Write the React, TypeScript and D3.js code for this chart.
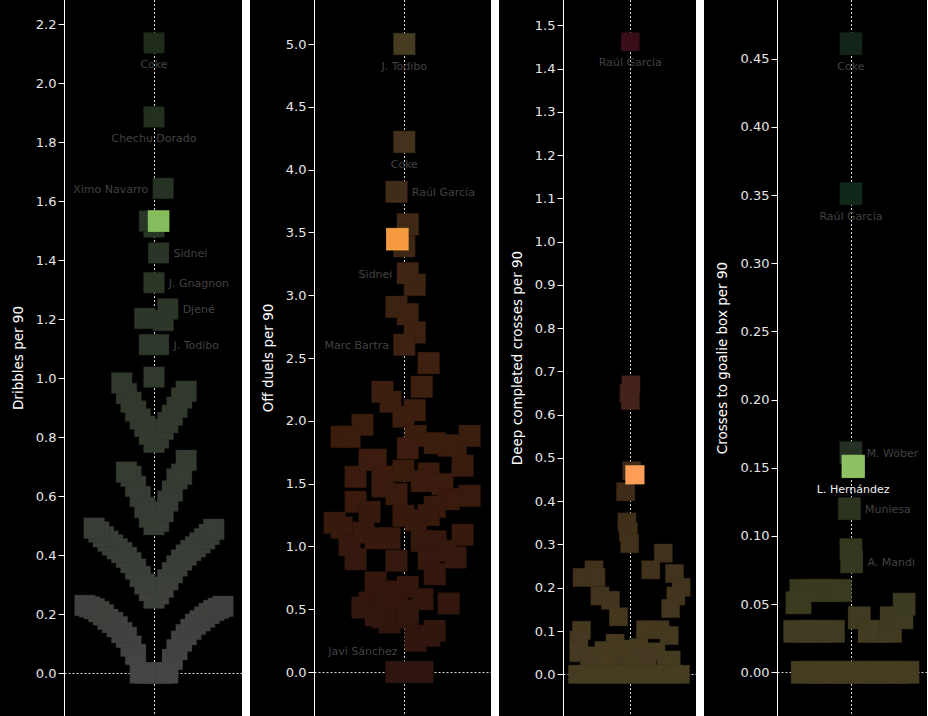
import React from "react";
import * as d3 from "d3";

const WIDTH = 928;
const HEIGHT = 716;
const HIGHLIGHT = "L. Hernández";

// ---------- Dribbles per 90 ----------
const dribblesNamed: [string, number][] = [
  ["L. Hernández", 1.532],
  ["Coke", 2.136],
  ["Chechu Dorado", 1.885],
  ["Ximo Navarro", 1.643],
  ["Sidnei", 1.424],
  ["J. Gnagnon", 1.323],
  ["Djené", 1.234],
  ["J. Todibo", 1.113],
];
const dribblesValues: number[] = [
  0, 0, 0, 0, 0, 0, 0, 0.046, 0.063, 0.079, 0.091, 0.108, 0.121, 0.13, 0.137, 0.148, 0.157, 0.165,
  0.171, 0.177, 0.182, 0.19, 0.197, 0.202, 0.208, 0.212, 0.218, 0.219, 0.224, 0.226, 0.229,
  0.254, 0.268, 0.279, 0.291, 0.302, 0.316, 0.327, 0.34, 0.352, 0.363, 0.374, 0.383, 0.392, 0.4,
  0.408, 0.415, 0.421, 0.428, 0.434, 0.441, 0.447, 0.455, 0.462, 0.47, 0.478, 0.487, 0.491,
  0.503, 0.514, 0.528, 0.547, 0.561, 0.583, 0.598, 0.617, 0.633, 0.658, 0.667, 0.674, 0.681, 0.721,
  0.782, 0.797, 0.809, 0.826, 0.836, 0.849, 0.861, 0.874, 0.888, 0.901, 0.918, 0.932, 0.947, 0.955, 0.983,
  1.003, 1.113, 1.195, 1.202,
  1.512, 1.532,
];
const dribblesTicks = [0, 0.2, 0.4, 0.6, 0.8, 1.0, 1.2, 1.4, 1.6, 1.8, 2.0, 2.2];

// ---------- Off duels per 90 ----------
const duelsNamed: [string, number, number][] = [
  ["L. Hernández", 3.446, -0.08],
  ["J. Todibo", 5.0, 0],
  ["Coke", 4.22, 0],
  ["Raúl García", 3.823, -0.09],
  ["Sidnei", 3.175, 0.04],
  ["Marc Bartra", 2.605, 0],
  ["Javi Sánchez", 0, 0.06],
];
const duelsValues: number[] = [
  3.565, 3.39, 3.083, 2.907, 2.849, 2.703, 2.46, 2.271, 2.231, 2.151,
  2.085, 2.032, 1.968, 1.873, 1.873, 1.88, 1.782, 1.822, 1.803, 1.803,
  1.88, 1.642, 1.69, 1.69, 1.554, 1.556, 1.477, 1.602, 1.58, 1.52,
  1.495, 1.416, 1.376, 1.403, 1.315, 1.355, 1.275, 1.243, 1.25, 1.208,
  1.188, 1.15, 1.012, 1.11, 1.065, 1.065, 0.898, 0.886, 1.044, 1.04,
  1.092, 0.965, 0.912, 0.9, 0.779, 0.713, 0.678, 0.64, 0.64, 0.553,
  0.514, 0.58, 0.545, 0.48, 0.434, 0.394, 0.434, 0.288, 0.248, 0.328,
  0.288, 0, 0, 0.52, 0.56, 0.492, 0.452,
];
const duelsJitter: number[] = [
  0.04, 0, 0.12, -0.09, 0.04, 0.12, 0.28, 0.2, -0.25, -0.16,
  0.12, -0.01, -0.48, -0.72, -0.63, 0.13, 0.04, 0.35, 0.51, 0.59,
  0.75, 0.67, -0.4, -0.33, -0.56, -0.25, -0.25, -0.01, 0.28, 0.2,
  0.44, -0.09, 0.51, 0.75, 0.35, -0.56, -0.4, -0.01, 0.28, 0.13,
  -0.8, -0.72, -0.63, -0.47, -0.33, -0.17, -0.56, -0.09, 0.2, 0.36,
  0.67, 0.47, 0.59, 0.28, 0.35, -0.33, 0.04, -0.08, -0.23, -0.4,
  -0.48, 0.21, 0.51, -0.25, -0.25, -0.17, 0.04, 0.13, 0.13, 0.35,
  0.29, -0.09, 0.21, -0.22, -0.09, 0.04, -0.33,
];
const duelsTicks = [0, 0.5, 1, 1.5, 2, 2.5, 3, 3.5, 4, 4.5, 5];

// ---------- Deep completed crosses per 90 ----------
const deepNamed: [string, number, number][] = [
  ["L. Hernández", 0.461, 0.07],
  ["Raúl García", 1.462, 0],
];
const deepValues: number[] = [
  0.669, 0.649, 0.633, 0.4706, 0.422, 0.352, 0.329, 0.302, 0.28, 0.2415,
  0.233, 0.201, 0.181, 0.152, 0.2415, 0.224, 0.224, 0.181, 0.171, 0.133,
  0.1017, 0.079, 0.05, 0.072, 0.103, 0.103, 0.0897, 0.062, 0.03, 0.0427,
  0.0427, 0.052, 0.033, 0.04, 0.045, 0.035, 0.04, 0.055, 0.058, 0.025,
  0, 0, 0, 0, 0, 0, 0, 0, 0, 0, 0, 0, 0,
];
const deepJitter: number[] = [
  0.01, -0.02, 0, 0.02, -0.07, -0.05, -0.03, -0.01, 0.5, 0.31,
  0.67, 0.77, 0.69, 0.61, -0.55, -0.73, -0.52, -0.46, -0.3, -0.18,
  -0.74, -0.78, -0.78, -0.23, 0.23, 0.45, 0.59, 0.13, 0.54, -0.5,
  -0.22, 0.39, 0.62, -0.62, -0.05, 0.05, 0.25, -0.4, -0.12, -0.35,
  -0.8, -0.67, -0.54, -0.41, -0.28, -0.15, -0.02, 0.11, 0.24, 0.37, 0.5, 0.63, 0.76,
];
const deepTicks = [0, 0.1, 0.2, 0.3, 0.4, 0.5, 0.6, 0.7, 0.8, 0.9, 1.0, 1.1, 1.2, 1.3, 1.4, 1.5];

// ---------- Crosses to goalie box per 90 ----------
const goalieNamed: [string, number, number][] = [
  ["Coke", 0.461, -0.01],
  ["Raúl García", 0.351, -0.01],
  ["M. Wöber", 0.161, -0.01],
  ["Muniesa", 0.12, -0.03],
  ["A. Mandi", 0.081, 0.0],
  ["L. Hernández", 0.151, 0.02],
];
const goalieValues: number[] = [
  0.09, 0.06, 0.06, 0.06, 0.06, 0.06, 0.051, 0.051, 0.03, 0.03,
  0.03, 0.03, 0.03, 0.04, 0.03, 0.03, 0.03, 0.04, 0.04, 0.05,
  0, 0, 0, 0, 0, 0, 0, 0, 0, 0, 0,
];
const goalieJitter: number[] = [
  -0.01, -0.67, -0.54, -0.41, -0.28, -0.15, -0.72, -0.68, -0.75, -0.62,
  -0.49, -0.37, -0.24, 0.1, 0.23, 0.37, 0.51, 0.52, 0.66, 0.69,
  -0.65, -0.51, -0.37, -0.23, -0.09, 0.05, 0.19, 0.33, 0.46, 0.6, 0.74,
];
const goalieTicks = [0, 0.05, 0.1, 0.15, 0.2, 0.25, 0.3, 0.35, 0.4, 0.45];

// ---------- label placement (style) ----------
const labelPlacement: Record<string, string> = {
  "dribbles|Coke": "below",
  "dribbles|Chechu Dorado": "below",
  "dribbles|Ximo Navarro": "left",
  "dribbles|Sidnei": "right",
  "dribbles|J. Gnagnon": "right",
  "dribbles|Djené": "right",
  "dribbles|J. Todibo": "right",
  "duels|J. Todibo": "below",
  "duels|Coke": "below",
  "duels|Raúl García": "right",
  "duels|Sidnei": "left",
  "duels|Marc Bartra": "left",
  "duels|Javi Sánchez": "aboveLeft",
  "deep|Raúl García": "below",
  "goalie|Coke": "below",
  "goalie|Raúl García": "below",
  "goalie|M. Wöber": "right",
  "goalie|L. Hernández": "below",
  "goalie|Muniesa": "right",
  "goalie|A. Mandi": "right",
};

type Pt = { name: string | null; value: number; jitter: number };

// Tableau-style binned swarm: within each bin, sorted ascending, alternate right/left
function binnedSwarm(items: { name: string | null; value: number }[], binWidth: number): Pt[] {
  const withIdx = items.map((p, i) => ({ ...p, i }));
  const groups = d3.group(withIdx, (p) => Math.floor(p.value / binWidth + 1e-9));
  const jit = new Array(items.length).fill(0);
  groups.forEach((arr) => {
    const sorted = arr.slice().sort((a, b) => a.value - b.value || a.i - b.i);
    sorted.forEach((p, r) => {
      const k = Math.ceil(r / 2);
      jit[p.i] = r % 2 === 1 ? k : -k;
    });
  });
  return items.map((p, i) => ({ ...p, jitter: jit[i] }));
}

const dribblesPoints: Pt[] = binnedSwarm(
  [
    ...dribblesNamed.map(([name, value]) => ({ name, value })),
    ...dribblesValues.map((value) => ({ name: null, value })),
  ],
  0.25
);
const mkPoints = (named: [string, number, number][], values: number[], jitter: number[]): Pt[] => [
  ...named.map(([name, value, j]) => ({ name, value, jitter: j })),
  ...values.map((value, i) => ({ name: null, value, jitter: jitter[i] })),
];

const panels = [
  {
    key: "dribbles",
    title: "Dribbles per 90",
    left: 0, right: 242, axisX: 64.5, cx: 154, lineX: 154.5,
    yDomain: [0, 2.2], yRange: [673, 24],
    jitterHalf: 4.6, size: 20.7, ticks: dribblesTicks, fmt: ".1f",
    colorDomain: [0, 0.5, 1.0, 1.5, 2.14],
    colorRange: ["#454545", "#383d35", "#30392c", "#283425", "#1f2c1b"],
    highlight: "#85bd5c",
    points: dribblesPoints,
  },
  {
    key: "duels",
    title: "Off duels per 90",
    left: 250, right: 491, axisX: 314.5, cx: 404.3, lineX: 404.5,
    yDomain: [0, 5], yRange: [672, 44],
    jitterHalf: 87, size: 21.7, ticks: duelsTicks, fmt: ".1f",
    colorDomain: [0, 0.6, 1.5, 2.5, 3.5, 4.2, 5.0],
    colorRange: ["#2e1510", "#33170e", "#3a1b0d", "#3d2010", "#3e2715", "#44321d", "#463c22"],
    highlight: "#f59a3f",
    points: mkPoints(duelsNamed, duelsValues, duelsJitter),
  },
  {
    key: "deep",
    title: "Deep completed crosses per 90",
    left: 499, right: 696, axisX: 563.5, cx: 630.3, lineX: 630.5,
    yDomain: [0, 1.5], yRange: [674.3, 25.3],
    jitterHalf: 66, size: 18.3, ticks: deepTicks, fmt: ".1f",
    colorDomain: [0, 0.1, 0.3, 0.45, 0.65, 1.46],
    colorRange: ["#463c22", "#44381f", "#41301a", "#3e2a17", "#45221a", "#3a0e18"],
    highlight: "#ff9c58",
    points: mkPoints(deepNamed, deepValues, deepJitter),
  },
  {
    key: "goalie",
    title: "Crosses to goalie box per 90",
    left: 704, right: 927, axisX: 777.5, cx: 851.7, lineX: 851.5,
    yDomain: [0, 0.45], yRange: [672.3, 58.7],
    jitterHalf: 76, size: 22.4, ticks: goalieTicks, fmt: ".2f",
    colorDomain: [0, 0.03, 0.06, 0.09, 0.12, 0.16, 0.35, 0.46],
    colorRange: ["#463c22", "#413b22", "#3a3a21", "#33371f", "#2c3420", "#243021", "#10281a", "#13241a"],
    highlight: "#8cc063",
    points: mkPoints(goalieNamed, goalieValues, goalieJitter),
  },
];

const FONT = "'DejaVu Sans', sans-serif";

function Panel({ cfg }: { cfg: (typeof panels)[number] }) {
  const y = d3.scaleLinear().domain(cfg.yDomain).range(cfg.yRange);
  const x = d3
    .scaleLinear()
    .domain([-1, 1])
    .range([cfg.cx - cfg.jitterHalf, cfg.cx + cfg.jitterHalf]);
  const color = d3
    .scaleLinear<string>()
    .domain(cfg.colorDomain)
    .range(cfg.colorRange)
    .interpolate(d3.interpolateRgb)
    .clamp(true);
  const fmt = d3.format(cfg.fmt);
  const y0 = Math.round(y(0)) + 0.5;
  const s = cfg.size;

  const ordered = [
    ...cfg.points.filter((p) => !p.name),
    ...cfg.points.filter((p) => p.name && p.name !== HIGHLIGHT),
    ...cfg.points.filter((p) => p.name === HIGHLIGHT),
  ];

  return (
    <g>
      <rect x={cfg.left} y={0} width={cfg.right - cfg.left} height={HEIGHT} fill="#000" />
      <line x1={cfg.axisX} x2={cfg.right} y1={y0} y2={y0} stroke="#d8d8d8" strokeWidth={1} strokeDasharray="2,2" />
      <line x1={cfg.lineX} x2={cfg.lineX} y1={0} y2={HEIGHT} stroke="#d8d8d8" strokeWidth={1} strokeDasharray="2,2" />
      {ordered.map((p, i) => {
        const isH = p.name === HIGHLIGHT;
        const fill = isH ? cfg.highlight : color(p.value);
        const stroke = isH
          ? d3.color(fill)!.brighter(0.35).formatHex()
          : d3.color(fill)!.darker(0.25).formatHex();
        return (
          <rect
            key={i}
            x={x(p.jitter) - s / 2}
            y={y(p.value) - s / 2}
            width={s}
            height={s}
            fill={fill}
            stroke={stroke}
            strokeWidth={1}
            strokeOpacity={isH ? 0.7 : 0.3}
          />
        );
      })}
      {cfg.points
        .filter((p) => p.name && labelPlacement[`${cfg.key}|${p.name}`])
        .map((p) => {
          const place = labelPlacement[`${cfg.key}|${p.name}`];
          const px = x(p.jitter);
          const py = y(p.value);
          let tx = px, ty = py + 1, anchor = "middle";
          if (place === "below") { ty = py + s / 2 + 11.7; }
          else if (place === "right") { tx = px + s / 2 + 4.5; anchor = "start"; }
          else if (place === "left") { tx = px - s / 2 - 4.5; anchor = "end"; }
          else if (place === "aboveLeft") { tx = px - 12; ty = py - 21; anchor = "end"; }
          const isH = p.name === HIGHLIGHT;
          return (
            <text
              key={p.name!}
              x={tx}
              y={ty}
              textAnchor={anchor}
              dominantBaseline="central"
              fontFamily={FONT}
              fontSize={11}
              fill={isH ? "#f2f2f2" : "#424242"}
            >
              {p.name}
            </text>
          );
        })}
      <line x1={cfg.axisX} x2={cfg.axisX} y1={0} y2={HEIGHT} stroke="#ffffff" strokeWidth={1} />
      {cfg.ticks.map((t) => (
        <g key={t}>
          <line x1={cfg.axisX - 6} x2={cfg.axisX} y1={Math.round(y(t)) + 0.5} y2={Math.round(y(t)) + 0.5} stroke="#ffffff" strokeWidth={1} />
          <text
            x={cfg.axisX - 8}
            y={y(t)}
            textAnchor="end"
            dominantBaseline="central"
            fontFamily={FONT}
            fontSize={13}
            fill="#e6e6e6"
          >
            {fmt(t)}
          </text>
        </g>
      ))}
      <text
        transform={`translate(${cfg.left + 17.5},358) rotate(-90)`}
        textAnchor="middle"
        dominantBaseline="central"
        fontFamily={FONT}
        fontSize={13.5}
        fill="#ffffff"
      >
        {cfg.title}
      </text>
    </g>
  );
}

export default function App() {
  return (
    <div style={{ position: "absolute", left: 0, top: 0 }}>
      <svg width={WIDTH} height={HEIGHT} style={{ display: "block" }}>
        <rect x={0} y={0} width={WIDTH} height={HEIGHT} fill="#ffffff" />
        {panels.map((cfg) => (
          <Panel key={cfg.key} cfg={cfg} />
        ))}
      </svg>
    </div>
  );
}
